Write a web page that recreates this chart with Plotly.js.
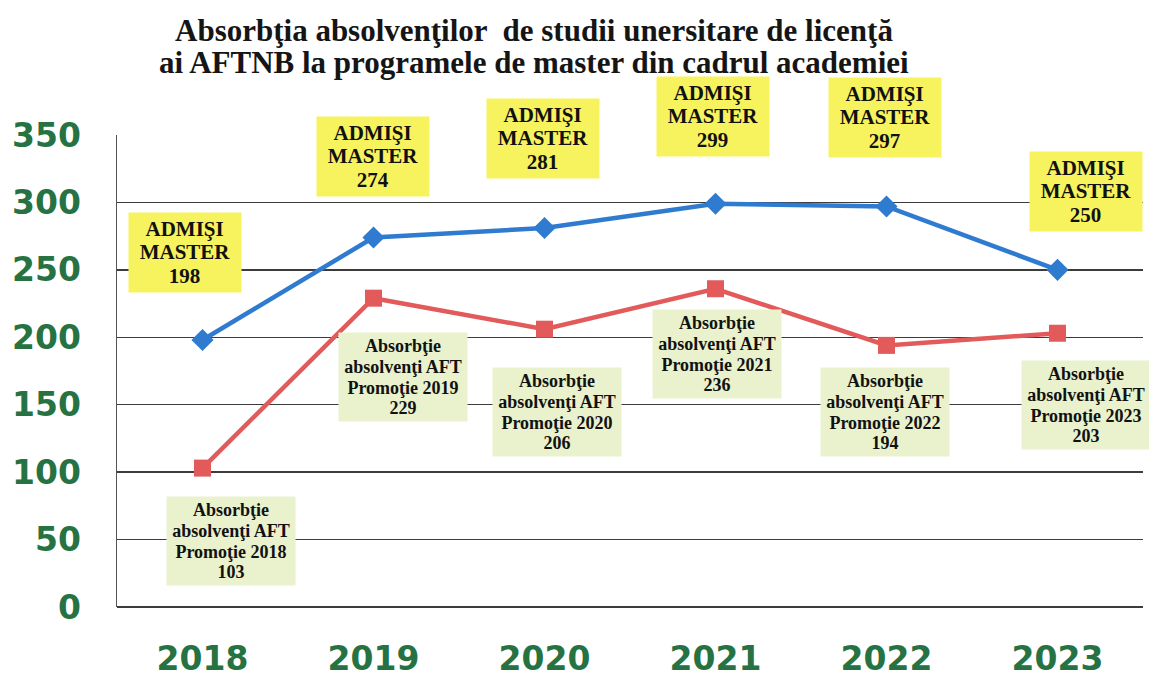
<!DOCTYPE html>
<html>
<head>
<meta charset="utf-8">
<script src="https://cdn.plot.ly/plotly-3.0.1.min.js"></script>
<style>html,body{margin:0;padding:0;background:#fff;}#chart{width:1149px;height:677px;}</style>
</head>
<body>
<div id="chart"></div>
<script>
// ---- data ----
const years = ["2018", "2019", "2020", "2021", "2022", "2023"];
const admisiMaster = [198, 274, 281, 299, 297, 250];
const absorbtieAFT = [103, 229, 206, 236, 194, 203];
const yTicks = [0, 50, 100, 150, 200, 250, 300, 350];
const titleLines = [
  "Absorbţia absolvenţilor  de studii unersitare de licenţă",
  "ai AFTNB la programele de master din cadrul academiei"
];

// ---- label placement (pixel offsets from each point) ----
const blueShiftX = [-18, -1, -2, -3, -2, 28];
const blueShiftY = [87, 81, 90, 87, 89, 78];
const redShiftX = [28, 29, 12, 1, -2, 28];
const redShiftY = [-73, -79, -83, -65, -67, -72];

const green = "#267243";
const serif = "Liberation Serif, Times New Roman, serif";

const traces = [
  {
    x: years, y: admisiMaster, type: "scatter", mode: "lines+markers",
    line: {color: "#2f7bcf", width: 4.5},
    marker: {symbol: "diamond", size: 17, color: "#2f7bcf"},
    hoverinfo: "x+y", showlegend: false
  },
  {
    x: years, y: absorbtieAFT, type: "scatter", mode: "lines+markers",
    line: {color: "#e25a5a", width: 4.5},
    marker: {symbol: "square", size: 17, color: "#e25a5a"},
    hoverinfo: "x+y", showlegend: false
  }
];

function big(lines, px) {
  return lines.map(l => '<span style="font-size:' + px + 'px"><b>' + l + '</b></span>').join("<br>");
}

const annotations = [];
// title lines
titleLines.forEach((t, k) => {
  annotations.push({
    text: "<b>" + t + "</b>", xref: "paper", yref: "paper",
    x: 0.406, y: 1 + (135 - 30 - 33 * k) / 472, xanchor: "center", yanchor: "middle",
    showarrow: false, font: {family: serif, size: 31, color: "#151515"}
  });
});
for (let i = 0; i < years.length; i++) {
  annotations.push({
    x: i, y: admisiMaster[i], xref: "x", yref: "y",
    text: big(["ADMIŞI", "MASTER", String(admisiMaster[i])], 21),
    showarrow: false, xshift: blueShiftX[i], yshift: blueShiftY[i],
    bgcolor: "#f6f35e", borderpad: 4, width: 104,
    font: {family: serif, size: 18, color: "#111"}, align: "center"
  });
  annotations.push({
    x: i, y: absorbtieAFT[i], xref: "x", yref: "y",
    text: big(["Absorbţie", "absolvenţi AFT", "Promoţie " + years[i], String(absorbtieAFT[i])], 18),
    showarrow: false, xshift: redShiftX[i], yshift: redShiftY[i],
    bgcolor: "#e9f1cd", borderpad: 3, width: 122,
    font: {family: serif, size: 16, color: "#111"}, align: "center"
  });
}

const layout = {
  width: 1149, height: 677,
  margin: {l: 117, r: 6, t: 135, b: 70},
  paper_bgcolor: "#ffffff", plot_bgcolor: "#ffffff",
  xaxis: {
    type: "category", range: [-0.5, 5.5],
    showgrid: false, zeroline: false,
    showline: false, ticks: "",
    ticklabelstandoff: 29,
    tickfont: {family: "DejaVu Sans", size: 33, color: green, weight: "bold"}
  },
  yaxis: {
    range: [0, 350], tickvals: yTicks, ticktext: yTicks.map(String),
    showgrid: true, gridcolor: "#3c3c3c", gridwidth: 1.5,
    zeroline: true, zerolinecolor: "#3c3c3c", zerolinewidth: 1.5,
    showline: true, linecolor: "#555", linewidth: 1.5,
    ticks: "", ticklabelstandoff: 28,
    tickfont: {family: "DejaVu Sans", size: 33, color: green, weight: "bold"}
  },
  annotations: annotations
};

Plotly.newPlot("chart", traces, layout, {displayModeBar: false, staticPlot: true});
</script>
</body>
</html>
